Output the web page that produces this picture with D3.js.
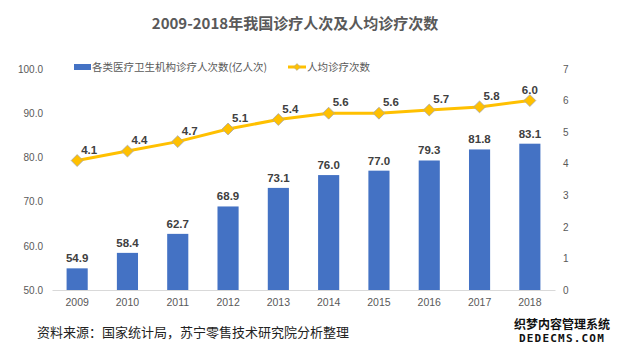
<!DOCTYPE html>
<html>
<head>
<meta charset="utf-8">
<script src="https://cdn.jsdelivr.net/npm/d3@7"></script>
<style>
  body { margin: 0; background: #fff; }
  svg { font-family: "Noto Sans CJK SC", "Noto Sans", sans-serif; }
</style>
</head>
<body>
<svg id="chart" width="621" height="352"></svg>
<script>
var years = ["2009", "2010", "2011", "2012", "2013", "2014", "2015", "2016", "2017", "2018"];
var visits = [54.9, 58.4, 62.7, 68.9, 73.1, 76.0, 77.0, 79.3, 81.8, 83.1];
var perCapita = [4.1, 4.4, 4.7, 5.1, 5.4, 5.6, 5.6, 5.7, 5.8, 6.0];
var leftTicks = [50, 60, 70, 80, 90, 100];
var rightTicks = [0, 1, 2, 3, 4, 5, 6, 7];
var seriesNames = ["各类医疗卫生机构诊疗人次数(亿人次)", "人均诊疗次数"];

var svg = d3.select("#chart");
var barColor = "#4472C4";
var lineColor = "#FFC000";

var x = d3.scaleBand().domain(years).range([52, 555]).paddingInner(0.58).paddingOuter(0.29);
var yL = d3.scaleLinear().domain([50, 100]).range([290, 69]);
var yR = d3.scaleLinear().domain([0, 7]).range([290, 69]);

// titolo
svg.append("text")
  .attr("x", 295).attr("y", 29)
  .attr("text-anchor", "middle")
  .style("font-size", "15px").style("font-weight", "bold")
  .style("fill", "#595959")
  .text("2009-2018年我国诊疗人次及人均诊疗次数");

// assi
var axisL = d3.axisLeft(yL).tickValues(leftTicks).tickFormat(d3.format(".1f")).tickSize(0).tickPadding(8);
svg.append("g").attr("transform", "translate(52,0)").call(axisL)
  .call(g => g.select(".domain").remove())
  .selectAll("text").style("font-size", "10px").style("fill", "#595959")
  .attr("x", -9).style("font-family", "Liberation Sans");

var axisR = d3.axisRight(yR).tickValues(rightTicks).tickFormat(d3.format("d")).tickSize(0).tickPadding(8);
svg.append("g").attr("transform", "translate(555,0)").call(axisR)
  .call(g => g.select(".domain").remove())
  .selectAll("text").style("font-size", "10px").style("fill", "#595959")
  .attr("x", 8).style("font-family", "Liberation Sans");

var axisX = d3.axisBottom(x).tickSize(0).tickPadding(9);
svg.append("g").attr("transform", "translate(0,290)").call(axisX)
  .call(g => g.select(".domain").attr("stroke", "#d9d9d9"))
  .selectAll("text").style("font-size", "10.5px").style("fill", "#595959")
  .style("font-family", "Liberation Sans");

// barre
svg.selectAll("rect.bar")
  .data(visits)
  .join("rect")
  .attr("class", "bar")
  .attr("x", (d, i) => x(years[i]))
  .attr("y", d => yL(d))
  .attr("width", x.bandwidth())
  .attr("height", d => 290 - yL(d))
  .attr("fill", barColor);

svg.selectAll("text.barlbl")
  .data(visits)
  .join("text")
  .attr("class", "barlbl")
  .attr("x", (d, i) => x(years[i]) + x.bandwidth() / 2)
  .attr("y", d => yL(d) - 6)
  .attr("text-anchor", "middle")
  .style("font-size", "11.5px").style("font-weight", "bold")
  .style("fill", "#404040").style("font-family", "Liberation Sans")
  .text(d => d.toFixed(1));

// linea
var cx = (d, i) => x(years[i]) + x.bandwidth() / 2;
var line = d3.line().x(cx).y(d => yR(d));
svg.append("path")
  .datum(perCapita)
  .attr("d", line)
  .attr("fill", "none")
  .attr("stroke", lineColor)
  .attr("stroke-width", 3);

svg.selectAll("path.marker")
  .data(perCapita)
  .join("path")
  .attr("class", "marker")
  .attr("d", d3.symbol(d3.symbolDiamond2, 90))
  .attr("transform", (d, i) => `translate(${cx(d, i)},${yR(d)})`)
  .attr("fill", lineColor)
  .attr("stroke", "#a6a6a6")
  .attr("stroke-width", 0.8);

svg.selectAll("text.linelbl")
  .data(perCapita)
  .join("text")
  .attr("class", "linelbl")
  .attr("x", (d, i) => cx(d, i) + (i < perCapita.length - 1 ? 12 : 0))
  .attr("y", d => yR(d) - 7)
  .attr("text-anchor", "middle")
  .style("font-size", "11.5px").style("font-weight", "bold")
  .style("fill", "#404040").style("font-family", "Liberation Sans")
  .text(d => d.toFixed(1));

// legenda
svg.append("rect").attr("x", 74).attr("y", 64).attr("width", 17).attr("height", 6).attr("fill", barColor);
svg.append("text").attr("x", 92).attr("y", 71)
  .style("font-size", "10.5px").style("fill", "#595959").text(seriesNames[0]);
svg.append("line").attr("x1", 288).attr("x2", 306).attr("y1", 67).attr("y2", 67)
  .attr("stroke", lineColor).attr("stroke-width", 3);
svg.append("path").attr("d", d3.symbol(d3.symbolDiamond2, 30))
  .attr("transform", "translate(297,67)").attr("fill", lineColor).attr("stroke", "#a6a6a6").attr("stroke-width", 0.6);
svg.append("text").attr("x", 307).attr("y", 71)
  .style("font-size", "10.5px").style("fill", "#595959").text(seriesNames[1]);

// fonte
svg.append("text").attr("x", 37).attr("y", 337)
  .style("font-size", "13px").style("fill", "#222")
  .text("资料来源：国家统计局，苏宁零售技术研究院分析整理");

// watermark
var wm = svg.append("g").style("paint-order", "stroke")
  .attr("stroke", "#fff").attr("stroke-width", 2.5).attr("fill", "#111");
wm.append("text").attr("x", 562).attr("y", 329).attr("text-anchor", "middle")
  .style("font-size", "12px").style("font-weight", "bold").text("织梦内容管理系统");
wm.append("text").attr("x", 562).attr("y", 342).attr("text-anchor", "middle")
  .style("font-size", "11px").style("font-weight", "bold").style("font-family", "DejaVu Sans Mono")
  .style("letter-spacing", "1.2px").text("DEDECMS.COM");
</script>
</body>
</html>
